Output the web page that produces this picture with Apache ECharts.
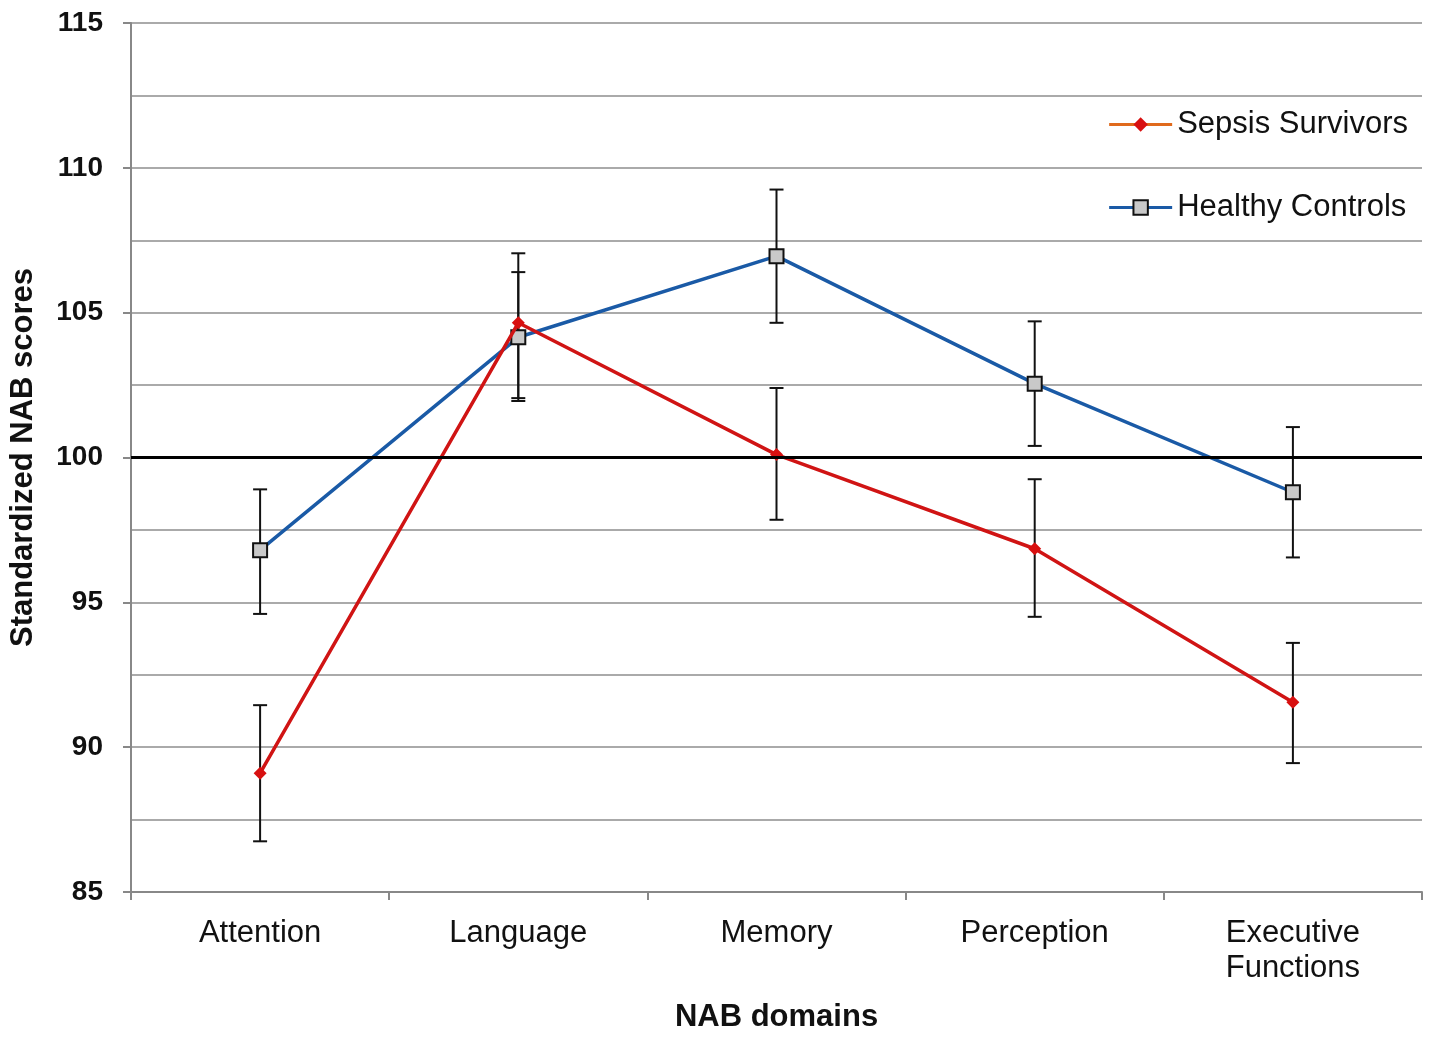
<!DOCTYPE html>
<html>
<head>
<meta charset="utf-8">
<script src="https://cdn.jsdelivr.net/npm/echarts@6/dist/echarts.min.js"></script>
<style>html,body{margin:0;padding:0;background:#fff;}#c{width:1429px;height:1041px;}</style>
</head>
<body>
<div id="c"></div>
<script>
var categories = ['Attention', 'Language', 'Memory', 'Perception', 'Executive\nFunctions'];
var sepsisMean = [89.1, 104.65, 100.1, 96.85, 91.55];
var sepsisLow = [86.75, 102.05, 97.85, 94.5, 89.45];
var sepsisHigh = [91.45, 106.4, 102.4, 99.25, 93.6];
var controlMean = [96.8, 104.15, 106.95, 102.55, 98.8];
var controlLow = [94.6, 101.95, 104.65, 100.4, 96.55];
var controlHigh = [98.9, 107.05, 109.25, 104.7, 101.05];
var referenceValue = 100;

var chart = echarts.init(document.getElementById('c'));
var font = 'Liberation Sans, Arial, sans-serif';

function errorSeries(low, high) {
  return {
    type: 'custom',
    z: 1,
    silent: true,
    data: low.map(function (l, i) { return [i, l, high[i]]; }),
    renderItem: function (params, api) {
      var x = api.value(0);
      var p1 = api.coord([x, api.value(1)]);
      var p2 = api.coord([x, api.value(2)]);
      var hw = 7;
      var st = { stroke: '#111', lineWidth: 2 };
      return {
        type: 'group',
        children: [
          { type: 'line', shape: { x1: p1[0], y1: p1[1], x2: p2[0], y2: p2[1] }, style: st },
          { type: 'line', shape: { x1: p1[0] - hw, y1: p1[1], x2: p1[0] + hw, y2: p1[1] }, style: st },
          { type: 'line', shape: { x1: p2[0] - hw, y1: p2[1], x2: p2[0] + hw, y2: p2[1] }, style: st }
        ]
      };
    }
  };
}

chart.setOption({
  animation: false,
  backgroundColor: '#fff',
  grid: { left: 131, right: 7, top: 23, bottom: 149, containLabel: false, outerBoundsMode: 'none' },
  legend: {
    orient: 'vertical',
    right: 16,
    top: 104,
    itemWidth: 63,
    itemHeight: 18,
    itemGap: 52,
    textStyle: { fontFamily: font, fontSize: 31, color: '#111' },
    data: [
      { name: 'Sepsis Survivors', lineStyle: { color: '#e06a1c', width: 3 }, itemStyle: { color: '#d81010' } },
      { name: 'Healthy Controls', lineStyle: { width: 3 } }
    ]
  },
  xAxis: {
    type: 'category',
    data: categories,
    boundaryGap: true,
    name: 'NAB domains',
    nameLocation: 'middle',
    nameGap: 110,
    nameTextStyle: { fontFamily: font, fontSize: 31, fontWeight: 'bold', color: '#111' },
    axisLine: { lineStyle: { color: '#888', width: 2 } },
    axisTick: { show: true, interval: 0, length: 8, lineStyle: { color: '#888', width: 2 } },
    axisLabel: { fontFamily: font, fontSize: 31, color: '#111', margin: 24, lineHeight: 35, interval: 0 },
    splitLine: { show: false }
  },
  yAxis: {
    type: 'value',
    min: 85,
    max: 115,
    interval: 5,
    name: 'Standardized NAB scores',
    nameLocation: 'middle',
    nameGap: 92,
    nameRotate: 90,
    nameTextStyle: { fontFamily: font, fontSize: 31, fontWeight: 'bold', color: '#111' },
    axisLine: { show: true, lineStyle: { color: '#888', width: 2 } },
    axisTick: { show: true, length: 8, lineStyle: { color: '#888', width: 2 } },
    axisLabel: { fontFamily: font, fontSize: 28, fontWeight: 'bold', color: '#111', margin: 28 },
    splitLine: { show: true, lineStyle: { color: '#aaa', width: 2 } },
    minorTick: { show: false, splitNumber: 2 },
    minorSplitLine: { show: true, lineStyle: { color: '#aaa', width: 2 } }
  },
  series: [
    errorSeries(sepsisLow, sepsisHigh),
    errorSeries(controlLow, controlHigh),
    {
      name: 'Healthy Controls',
      type: 'line',
      z: 3,
      data: controlMean,
      symbol: 'rect',
      symbolSize: 14,
      lineStyle: { color: '#1a5aa6', width: 3.5 },
      itemStyle: { color: '#c9c9c9', borderColor: '#111', borderWidth: 2 },
      markLine: {
        silent: true,
        symbol: 'none',
        label: { show: false },
        lineStyle: { color: '#000', width: 3, type: 'solid' },
        data: [{ yAxis: referenceValue }]
      }
    },
    {
      name: 'Sepsis Survivors',
      type: 'line',
      z: 4,
      data: sepsisMean,
      symbol: 'diamond',
      symbolSize: 13,
      lineStyle: { color: '#d01414', width: 3.5 },
      itemStyle: { color: '#d81010' }
    }
  ]
});
</script>
</body>
</html>
